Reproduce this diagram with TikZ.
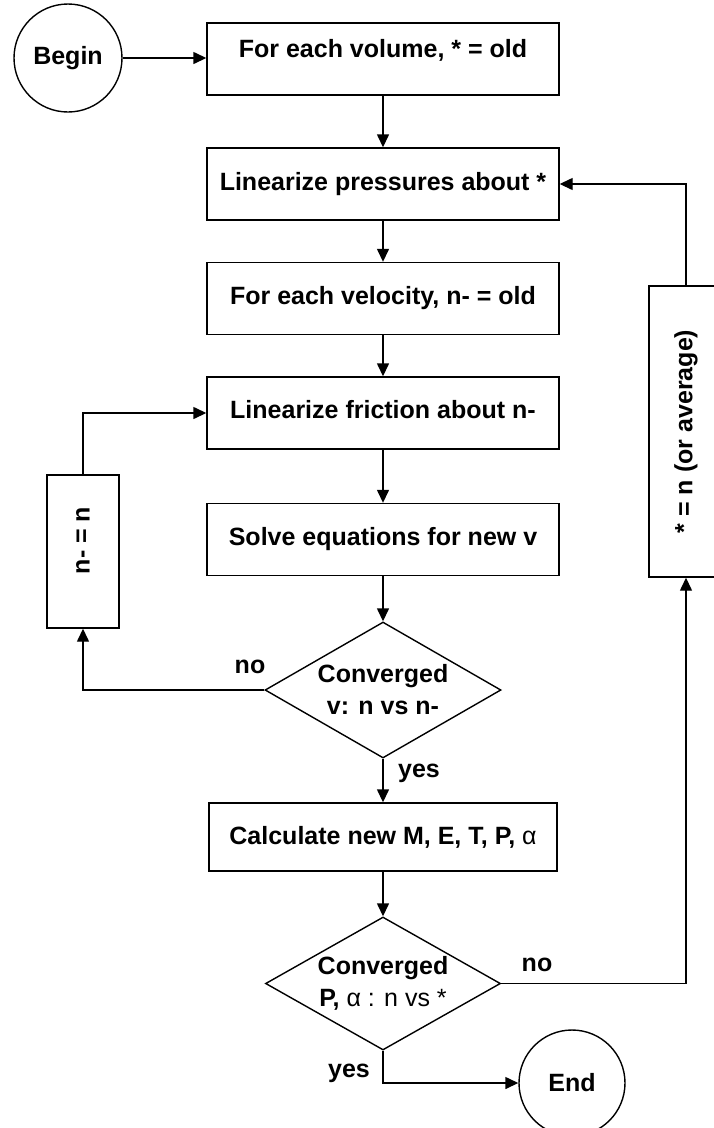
\documentclass[tikz,border=0pt]{standalone}
\usepackage{fontspec}
\setmainfont{Liberation Sans}
\usetikzlibrary{arrows.meta,shapes.geometric}
\begin{document}
\begin{tikzpicture}[x=1pt,y=-1pt,line width=1.4pt,
  every node/.style={font=\fontsize{25}{32}\selectfont\bfseries},
  stepbox/.style={draw, rectangle, minimum width=352pt, minimum height=72pt, inner sep=0pt, align=center},
  term/.style={draw, circle, inner sep=0pt},
  decide/.style={draw, diamond, aspect=1.735, inner sep=0pt, align=center},
  sidebox/.style={draw, rectangle, inner sep=0pt},
  arr/.style={-{Triangle[length=13pt,width=12pt]}},
  tag/.style={inner sep=0pt}
]
\useasboundingbox (0,0) rectangle (714,1128);

% terminals
\node[term, minimum size=108pt] (begin) at (68,58) {Begin};
\node[term, minimum size=106pt] (end) at (572,1083) {End};

% main column of process boxes
\node[stepbox, label={[name=b1t, yshift=9pt]center:For each volume, * = old}] (b1) at (383,59) {};
\node[stepbox] (b2) at (383,184) {Linearize pressures about *};
\node[stepbox] (b3) at (383,298.5) {For each velocity, n- = old};
\node[stepbox, label={[name=b4t, yshift=3pt]center:Linearize friction about n-}] (b4) at (383,413) {};
\node[stepbox] (b5) at (383,539.5) {Solve equations for new v};
\node[decide, minimum width=236pt, minimum height=136pt] (d1) at (383,690) {Converged\\v: n vs n-};
\node[stepbox, minimum width=348pt, minimum height=68pt] (b6) at (383,837) {Calculate new M, E, T, P, {\mdseries α}};
\node[decide, minimum width=235pt, minimum height=133pt] (d2) at (383,983.5) {Converged\\P, {\mdseries α : n vs *}};

% update boxes of the two loops
\node[sidebox, minimum width=72pt, minimum height=153pt,
      label={[name=lbt, yshift=11pt]center:\rotatebox{90}{n- = n}}] (lb) at (83,551.5) {};
\node[sidebox, minimum width=74pt, minimum height=291pt] (rb) at (686,431.5) {\rotatebox{90}{* = n (or average)}};

% main flow
\draw[arr] (begin.east) -- (begin.east -| b1.west);
\draw[arr] (b1) -- (b2);
\draw[arr] (b2) -- (b3);
\draw[arr] (b3) -- (b4);
\draw[arr] (b4) -- (b5);
\draw[arr] (b5) -- (d1);
\draw[arr] (d1) -- (b6);
\draw[arr] (b6) -- (d2);
\draw[arr] (d2.south) |- (end.west);

% inner loop (velocity)
\draw[arr] (d1.west) -| (lb.south);
\draw[arr] (lb.north) |- (b4.west);

% outer loop (pressure)
\draw[arr] (d2.east) -| (rb.south);
\draw[arr] (rb.north) |- (b2.east);

% branch labels
\node[tag] (no1) at (250,667) {no};
\node[tag] (yes1) at (419,773) {yes};
\node[tag] (no2) at (537,965) {no};
\node[tag] (yes2) at (349,1073) {yes};
\end{tikzpicture}
\end{document}
